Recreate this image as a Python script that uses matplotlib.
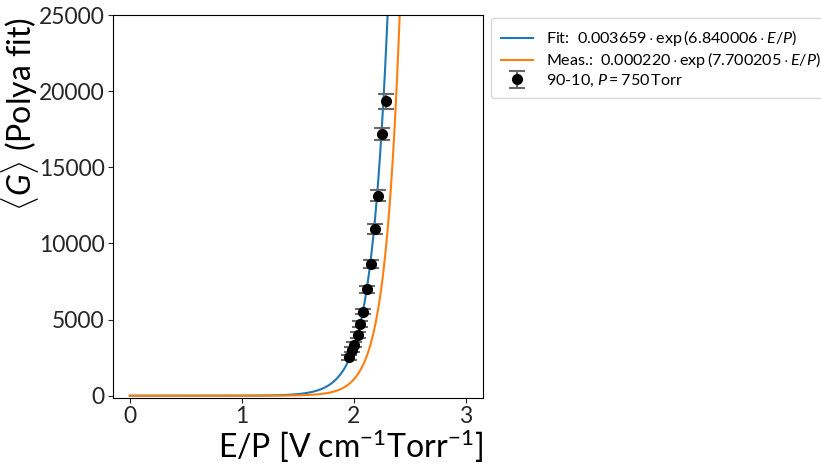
"""Mean gas gain vs reduced field for the 90-10 mixture at 750 Torr"""

import matplotlib

matplotlib.use("Agg")
import matplotlib.pyplot as plt
import numpy as np

plt.rcParams["font.family"] = ["Lato", "DejaVu Sans"]
plt.rcParams["mathtext.fontset"] = "custom"
plt.rcParams["mathtext.rm"] = "Lato"
plt.rcParams["mathtext.it"] = "Lato:italic"
plt.rcParams["mathtext.bf"] = "Lato:bold"

# exponential fit parameters  G = a * exp(b * E/P)
FIT_A, FIT_B = 0.003659, 6.840006
MEAS_A, MEAS_B = 0.000220, 7.700205

# measured gain points (E/P in V/cm/Torr)
ep_data = [1.955, 1.982, 2.003, 2.033, 2.056, 2.083, 2.119, 2.149, 2.188, 2.217, 2.247, 2.286]
gain_data = [2510, 3020, 3345, 3980, 4720, 5530, 7000, 8640, 10950, 13140, 17170, 19350]
gain_err = [150, 160, 170, 190, 200, 190, 230, 270, 300, 380, 390, 490]

ep = np.linspace(0, 3, 600)

fig = plt.figure(figsize=(8.21, 4.65), dpi=100)
ax = fig.add_axes([0.1376, 0.1441, 0.4504, 0.8236])

ax.plot(ep, FIT_A * np.exp(FIT_B * ep), "-", color="#1f77b4", lw=1.5,
        label=r"Fit:  $0.003659 \cdot \mathrm{exp}\,(6.840006 \cdot E/P)$")
ax.plot(ep, MEAS_A * np.exp(MEAS_B * ep), "-", color="#ff7f0e", lw=1.5,
        label=r"Meas.:  $0.000220 \cdot \mathrm{exp}\,(7.700205 \cdot E/P)$")
ax.errorbar(ep_data, gain_data, yerr=gain_err, fmt="o", color="black",
            ecolor="dimgray", elinewidth=1.5, capsize=6, capthick=1.5,
            markersize=7, label=r"90-10, $P = 750\,$Torr")

ax.set_ylim(-150, 25000)
ax.set_xticks([0, 1, 2, 3])
ax.set_yticks(np.arange(0, 25001, 5000))
ax.tick_params(labelsize=16.5, colors="#262626", pad=2.5)

ax.set_xlabel(r"E/P [V cm$^{-1}$Torr$^{-1}$]", fontsize=23, loc="right", labelpad=0)
ax.set_ylabel(r"$\langle G \rangle$ (Polya fit)", fontsize=23, loc="top")
ax.yaxis.set_label_coords(-0.195, 0.995)

ax.legend(loc="upper left", bbox_to_anchor=(491 / 821, 1 - 18 / 465),
          bbox_transform=fig.transFigure, borderaxespad=0, fontsize=11.6,
          labelspacing=0.15, borderpad=0.6, handleheight=0.5)

fig.savefig("out.png", dpi=100)
